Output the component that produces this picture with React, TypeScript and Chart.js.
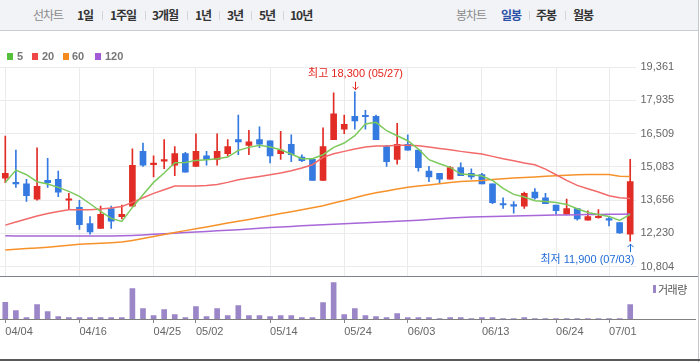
import React, { useEffect, useRef } from "react";
import { Chart, registerables } from "chart.js";

Chart.register(...registerables);

// ---------- data ----------
const dates = [
  "04/04", "04/05", "04/08", "04/09", "04/11", "04/12", "04/15", "04/16", "04/17", "04/18",
  "04/19", "04/22", "04/23", "04/24", "04/25", "04/26", "04/29", "04/30", "05/02", "05/03",
  "05/07", "05/08", "05/09", "05/10", "05/13", "05/14", "05/16", "05/17", "05/20", "05/21",
  "05/22", "05/23", "05/24", "05/27", "05/28", "05/29", "05/30", "05/31", "06/03", "06/04",
  "06/05", "06/07", "06/10", "06/11", "06/12", "06/13", "06/14", "06/17", "06/18", "06/19",
  "06/20", "06/21", "06/24", "06/25", "06/26", "06/27", "06/28", "07/01", "07/02", "07/03",
];

const opens = [
  14600, 14400, 14350, 13700, 14500, 14550, 13650, 13350, 12650, 12450,
  13300, 12950, 13400, 15750, 15180, 15330, 15150, 15650, 15100, 15550,
  15400, 15650, 16250, 16000, 16250, 16200, 15650, 16050, 15500, 15400,
  14500, 16250, 16700, 17250, 17250, 17250, 15950, 15400, 16050, 15800,
  14900, 14800, 14550, 15050, 14800, 14750, 14350, 13500, 13450, 13400,
  14000, 13750, 13450, 13050, 13300, 12800, 12900, 12850, 12700, 12200,
];
const highs = [
  16400, 15800, 14550, 15900, 15450, 14900, 13950, 13650, 12950, 13400,
  13400, 13450, 15850, 16100, 15550, 16250, 15950, 15700, 16500, 15750,
  16500, 16250, 17300, 16650, 16800, 16200, 16600, 16450, 15600, 15400,
  16750, 18250, 17300, 18300, 17500, 17300, 16000, 16950, 16450, 15800,
  15100, 14800, 15100, 15250, 15000, 14800, 14350, 13750, 13600, 14000,
  14150, 13950, 13450, 13700, 13300, 13200, 13250, 12950, 12700, 15400,
];
const lows = [
  14400, 14200, 13600, 13650, 14200, 13800, 13250, 12400, 12200, 12450,
  12450, 12850, 13400, 15100, 14650, 15000, 14700, 14850, 15100, 15150,
  15150, 15550, 15600, 15600, 15900, 15250, 15400, 15300, 15300, 14500,
  14500, 16250, 16500, 16700, 16700, 16250, 15100, 15200, 15800, 14900,
  14450, 14400, 14550, 14700, 14550, 14350, 13500, 13300, 13100, 13300,
  13700, 13500, 13050, 13050, 12800, 12800, 12880, 12550, 12230, 11900,
];
const closes = [
  14800, 14350, 13850, 14250, 14400, 14000, 13670, 12600, 12300, 13050,
  12750, 13050, 15150, 15150, 15200, 15350, 15650, 14850, 15750, 15400,
  15750, 15950, 16150, 16150, 16050, 15550, 15800, 15600, 15350, 14500,
  15950, 17350, 16900, 17050, 17230, 16250, 15300, 16050, 15800, 15050,
  14650, 14550, 15050, 14700, 14650, 14350, 13550, 13450, 13400, 13950,
  13750, 13500, 13200, 13300, 12850, 12950, 12920, 12800, 12250, 14450,
];

const ma5 = [
  14417, 14945, 14745, 14445, 14345, 14202, 14031, 13817, 13502, 13174,
  12873, 12745, 13345, 13888, 14417, 14817, 15260, 15274, 15360, 15389,
  15431, 15503, 15789, 15917, 16003, 15931, 15817, 15631, 15431, 15431,
  15603, 15917, 16103, 16417, 16917, 16989, 16631, 16417, 16203, 15846,
  15389, 15217, 15060, 14774, 14745, 14688, 14503, 14160, 13902, 13788,
  13631, 13602, 13560, 13474, 13288, 13131, 13045, 12959, 12788, 13045,
];
const ma20 = [
  12587, 12716, 12845, 12973, 13088, 13174, 13245, 13245, 13245, 13274,
  13316, 13388, 13560, 13760, 13945, 14102, 14260, 14260, 14260, 14288,
  14331, 14417, 14531, 14603, 14674, 14745, 14817, 14917, 15031, 15174,
  15488, 15646, 15746, 15846, 15931, 15974, 15974, 16003, 16003, 15989,
  15931, 15874, 15817, 15746, 15689, 15631, 15531, 15431, 15346, 15246,
  15174, 14988, 14745, 14503, 14288, 14145, 14002, 13845, 13760, 13731,
];
const ma60 = [
  11520, 11550, 11580, 11610, 11640, 11680, 11720, 11770, 11790, 11810,
  11830, 11860, 11930, 12010, 12100, 12180, 12270, 12350, 12430, 12510,
  12590, 12680, 12750, 12830, 12910, 13000, 13080, 13160, 13240, 13330,
  13420, 13530, 13640, 13760, 13880, 13970, 14050, 14130, 14210, 14260,
  14310, 14360, 14410, 14450, 14480, 14500, 14540, 14570, 14600, 14630,
  14650, 14680, 14700, 14720, 14740, 14750, 14760, 14750, 14680, 14670,
];
const ma120 = [
  12130, 12125, 12120, 12120, 12115, 12115, 12115, 12115, 12120, 12120,
  12125, 12130, 12145, 12165, 12190, 12215, 12240, 12265, 12290, 12315,
  12340, 12365, 12390, 12420, 12450, 12480, 12505, 12530, 12555, 12580,
  12605, 12625, 12645, 12665, 12690, 12710, 12730, 12750, 12775, 12800,
  12830, 12860, 12890, 12910, 12930, 12945, 12955, 12965, 12975, 12985,
  12995, 13005, 13015, 13025, 13035, 13040, 13045, 13050, 13055, 13060,
];

const volumes = [
  500, 250, 40, 430, 220, 70, 40, 40, 40, 40,
  40, 40, 910, 310, 100, 280, 130, 40, 370, 70,
  310, 100, 400, 100, 100, 70, 100, 100, 40, 40,
  490, 1090, 130, 310, 100, 70, 40, 160, 40, 40,
  40, 10, 40, 40, 10, 40, 40, 10, 10, 40,
  10, 10, 10, 10, 10, 10, 10, 10, 10, 430,
];

const xTickLabels = ["04/04", "04/16", "04/25", "05/02", "05/14", "05/24", "06/03", "06/13", "06/24", "07/01"];
const priceTicks = [10804, 12230, 13656, 15083, 16509, 17935, 19361];

const periodTabs = ["1일", "1주일", "3개월", "1년", "3년", "5년", "10년"];
const candleTabs = ["일봉", "주봉", "월봉"];
const legendItems = ["5", "20", "60", "120"];

// ---------- styles ----------
const RED = "#e12d25";
const BLUE = "#347ae0";
const MA_COLORS = ["#7cc95c", "#f26a6a", "#f7922a", "#a767d8"];
const LEGEND_COLORS = ["#56bf3c", "#ef4848", "#f58a1e", "#a25bd5"];
const VOL_COLOR = "#9b86c8";
const GRID = "#ebebeb";
const FONT = '"Liberation Sans", "Noto Sans CJK KR", sans-serif';
const KFONT = '"Noto Sans CJK KR", "Liberation Sans", sans-serif';

const fmt = (v: number) => v.toLocaleString("en-US");
const tickIdx = new Set(xTickLabels.map((l) => dates.indexOf(l)));

const annotationPlugin = {
  id: "hiLo",
  afterDatasetsDraw(chart: any) {
    const { ctx, scales, chartArea } = chart;
    const x = scales.x;
    const y = scales.y;
    const hiVal = Math.max(...highs);
    const loVal = Math.min(...lows);
    const hi = highs.indexOf(hiVal);
    const lo = lows.indexOf(loVal);
    ctx.save();
    ctx.lineWidth = 1;
    ctx.font = "11px " + FONT;
    ctx.textBaseline = "middle";

    // high
    const xh = Math.round(x.getPixelForValue(hi)) + 0.5;
    const yh = y.getPixelForValue(hiVal);
    ctx.strokeStyle = "#e3241c";
    ctx.fillStyle = "#e3241c";
    ctx.beginPath();
    ctx.moveTo(xh, yh - 10);
    ctx.lineTo(xh, yh - 2);
    ctx.moveTo(xh - 3, yh - 5);
    ctx.lineTo(xh, yh - 2);
    ctx.lineTo(xh + 3, yh - 5);
    ctx.stroke();
    ctx.textAlign = "center";
    ctx.fillText(`최고 ${fmt(hiVal)} (${dates[hi]})`, xh, yh - 17.5);

    // low
    const xl = Math.round(x.getPixelForValue(lo)) + 0.5;
    const yl = y.getPixelForValue(loVal);
    ctx.strokeStyle = "#1f6bd6";
    ctx.fillStyle = "#1f6bd6";
    ctx.beginPath();
    ctx.moveTo(xl, yl + 3);
    ctx.lineTo(xl, yl + 11);
    ctx.moveTo(xl - 3, yl + 6);
    ctx.lineTo(xl, yl + 3);
    ctx.lineTo(xl + 3, yl + 6);
    ctx.stroke();
    ctx.textAlign = "right";
    ctx.fillText(`최저 ${fmt(loVal)} (${dates[lo]})`, chartArea.right - 1, yl + 18.5);
    ctx.restore();
  },
};

export default function App() {
  const priceRef = useRef<HTMLCanvasElement>(null);
  const volRef = useRef<HTMLCanvasElement>(null);

  useEffect(() => {
    const colors = dates.map((_, i) => (closes[i] > opens[i] ? RED : BLUE));
    const maSets = [ma5, ma20, ma60, ma120].map((d, k) => ({
      type: "line" as const,
      label: legendItems[k],
      data: d,
      borderColor: MA_COLORS[k],
      borderWidth: 1.5,
      pointRadius: 0,
      tension: 0,
      order: 0,
    }));

    const price = new Chart(priceRef.current as HTMLCanvasElement, {
      type: "bar",
      data: {
        labels: dates,
        datasets: [
          ...maSets,
          {
            label: "wick",
            data: dates.map((_, i) => [lows[i], highs[i]]),
            backgroundColor: colors,
            barThickness: 1,
            grouped: false,
            order: 2,
          },
          {
            label: "body",
            data: dates.map((_, i) => [Math.min(opens[i], closes[i]), Math.max(opens[i], closes[i])]),
            backgroundColor: colors,
            barThickness: 6,
            minBarLength: 1.5,
            grouped: false,
            order: 1,
          },
        ] as any,
      },
      options: {
        animation: false,
        responsive: false,
        events: [],
        layout: { padding: { top: 7, left: 0, right: 0, bottom: 0 } },
        plugins: { legend: { display: false }, tooltip: { enabled: false } },
        scales: {
          x: {
            type: "category",
            offset: true,
            grid: {
              offset: false,
              drawTicks: false,
              color: (c: any) => (tickIdx.has(c.index) ? GRID : "rgba(0,0,0,0)"),
            },
            border: { display: false },
            ticks: { display: false, autoSkip: false },
            afterFit: (s: any) => {
              s.height = 0;
              s.paddingLeft = 0;
              s.paddingRight = 0;
            },
          },
          y: {
            position: "right",
            min: 10406,
            max: 19361,
            afterBuildTicks: (s: any) => {
              s.ticks = priceTicks.map((v) => ({ value: v }));
            },
            afterFit: (s: any) => {
              s.width = 62.5;
              s.paddingTop = 0;
              s.paddingBottom = 0;
            },
            grid: { color: GRID, drawTicks: false },
            border: { display: false },
            ticks: {
              padding: 5,
              color: "#666",
              font: { family: FONT, size: 11 },
              callback: (v: any) => fmt(Number(v)),
            },
          },
        },
      } as any,
      plugins: [annotationPlugin],
    });

    const vol = new Chart(volRef.current as HTMLCanvasElement, {
      type: "bar",
      data: {
        labels: dates,
        datasets: [
          {
            label: "거래량",
            data: volumes,
            backgroundColor: VOL_COLOR,
            barThickness: 5,
          },
        ],
      },
      options: {
        animation: false,
        responsive: false,
        events: [],
        layout: { padding: { left: 0, right: 62.5, top: 0, bottom: 0 } },
        plugins: { legend: { display: false }, tooltip: { enabled: false } },
        scales: {
          x: {
            type: "category",
            offset: true,
            grid: {
              offset: false,
              drawOnChartArea: false,
              drawTicks: true,
              tickLength: 4,
              color: (c: any) => (tickIdx.has(c.index) ? "#888" : "rgba(0,0,0,0)"),
            },
            border: { display: false },
            ticks: {
              autoSkip: false,
              maxRotation: 0,
              minRotation: 0,
              align: "start",
              padding: 2,
              color: "#666",
              font: { family: FONT, size: 11 },
              callback: (_v: any, i: number) => (tickIdx.has(i) ? dates[i] : ""),
            },
            afterFit: (s: any) => {
              s.height = 40;
              s.paddingLeft = 0;
              s.paddingRight = 0;
            },
          },
          y: {
            display: false,
            min: 0,
            max: 1260,
          },
        },
      } as any,
    });

    return () => {
      price.destroy();
      vol.destroy();
    };
  }, []);

  const tabLefts = [77, 110, 152, 195, 227, 259, 290];
  const tabSeps = [102, 145, 187, 219, 251, 283, 529, 565];
  const candleLefts = [501, 536, 573];
  const legSq = [7, 32, 63, 95];
  const legTx = [17, 42, 72, 105];

  const tabText = (extra: any): any => ({
    position: "absolute",
    top: 6,
    lineHeight: "18px",
    fontSize: 12,
    letterSpacing: "-1px",
    fontFamily: KFONT,
    whiteSpace: "nowrap",
    ...extra,
  });

  return (
    <div
      style={{
        position: "fixed",
        left: 0,
        top: 0,
        width: 700,
        height: 362,
        background: "#fff",
        overflow: "hidden",
      }}
    >
      {/* tab bar */}
      <div
        style={{
          position: "absolute",
          left: 0,
          top: 0,
          width: 699,
          height: 30,
          background: "#f2f3f7",
          borderBottom: "1px solid #c9ccd3",
        }}
      />
      <span style={tabText({ left: 33, color: "#8a8a8a" })}>선차트</span>
      {periodTabs.map((t, i) => (
        <span key={t} style={tabText({ left: tabLefts[i], color: "#333", fontWeight: 700 })}>
          {t}
        </span>
      ))}
      <span style={tabText({ left: 456, color: "#8a8a8a" })}>봉차트</span>
      {candleTabs.map((t, i) => (
        <span
          key={t}
          style={tabText({ left: candleLefts[i], color: i === 0 ? "#2a50a8" : "#333", fontWeight: 700 })}
        >
          {t}
        </span>
      ))}
      {tabSeps.map((x) => (
        <div key={x} style={{ position: "absolute", left: x, top: 11, width: 1, height: 9, background: "#d3d5da" }} />
      ))}

      {/* right border */}
      <div style={{ position: "absolute", left: 698, top: 0, width: 1, height: 362, background: "#c4c7cc" }} />

      {/* price chart */}
      <canvas
        ref={priceRef}
        width={698}
        height={216}
        style={{ position: "absolute", left: 0, top: 60, width: 698, height: 216, display: "block" }}
      />

      {/* legend */}
      {legendItems.map((t, i) => (
        <React.Fragment key={t}>
          <div
            style={{
              position: "absolute",
              left: legSq[i],
              top: 53,
              width: 6,
              height: 7,
              background: LEGEND_COLORS[i],
            }}
          />
          <span
            style={{
              position: "absolute",
              left: legTx[i],
              top: 50,
              lineHeight: "13px",
              fontSize: 11,
              fontWeight: 700,
              color: "#777",
              fontFamily: FONT,
            }}
          >
            {t}
          </span>
        </React.Fragment>
      ))}

      {/* separator */}
      <div style={{ position: "absolute", left: 0, top: 276, width: 698, height: 1, background: "#7d828b" }} />

      {/* volume chart */}
      <canvas
        ref={volRef}
        width={698}
        height={82}
        style={{ position: "absolute", left: 0, top: 277, width: 698, height: 82, display: "block" }}
      />
      <div style={{ position: "absolute", left: 0, top: 319, width: 696, height: 1, background: "#808080" }} />

      {/* volume legend */}
      <div style={{ position: "absolute", left: 653, top: 285, width: 3, height: 8, background: VOL_COLOR }} />
      <span
        style={{
          position: "absolute",
          left: 658,
          top: 281,
          lineHeight: "16px",
          fontSize: 11,
          color: "#555",
          fontFamily: KFONT,
          letterSpacing: "-0.5px",
        }}
      >
        거래량
      </span>

      {/* bottom border */}
      <div style={{ position: "absolute", left: 0, top: 359, width: 700, height: 2, background: "#5a5a5a" }} />
    </div>
  );
}
